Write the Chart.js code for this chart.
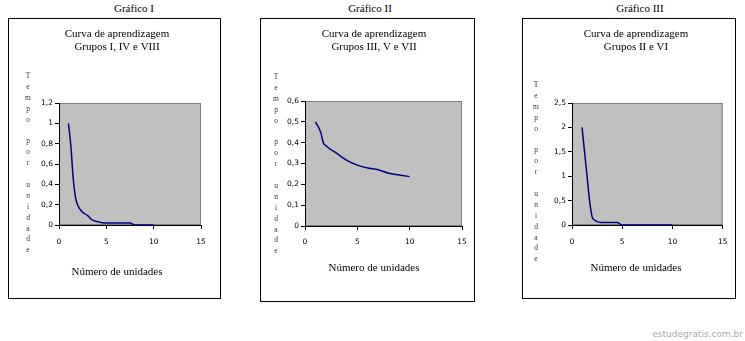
<!DOCTYPE html>
<html lang="pt-BR">
<head>
<meta charset="utf-8">
<title>Curvas de aprendizagem</title>
<script src="https://cdn.jsdelivr.net/npm/chart.js@4.4.0/dist/chart.umd.min.js"></script>
<style>
    body { margin: 0; background: #fff; width: 745px; height: 341px; position: relative; overflow: hidden; font-family: 'Liberation Serif', serif; }
    .heading { position: absolute; top: 2px; width: 120px; margin-left: -60px; text-align: center; font-size: 11px; line-height: 13px; color: #000; }
    .box { position: absolute; border: 1px solid #000; box-sizing: border-box; }
    .box canvas { position: absolute; left: -1px; top: -1px; }
    .marca { position: absolute; right: 2px; top: 328px; font-family: 'DejaVu Sans', sans-serif; font-size: 9px; line-height: 12px; color: #aaa; }
</style>
</head>
<body>

<div class="heading" style="left:134px">Gráfico I</div>
<div class="heading" style="left:370px">Gráfico II</div>
<div class="heading" style="left:640px">Gráfico III</div>

<div class="box" style="left:8px; top:18px; width:213px; height:281px"><canvas id="grafico1" width="213" height="281"></canvas></div>
<div class="box" style="left:260px; top:18px; width:215px; height:284px"><canvas id="grafico2" width="215" height="284"></canvas></div>
<div class="box" style="left:522px; top:18px; width:214px; height:281px"><canvas id="grafico3" width="214" height="281"></canvas></div>

<div class="marca">estudegratis.com.br</div>

<script>
// valores (unidades x tempo por unidade)
const unidades1 = [1, 1.25, 1.5, 1.75, 2, 2.5, 3, 3.5, 4, 5, 6, 7, 7.5, 8, 9, 10];
const tempo1 = [1.0, 0.78, 0.46, 0.27, 0.19, 0.125, 0.095, 0.05, 0.035, 0.02, 0.02, 0.02, 0.02, 0, 0, 0];

const unidades2 = [1, 1.5, 1.75, 2, 3, 4, 5, 6, 7, 8, 9, 10];
const tempo2 = [0.5, 0.45, 0.4, 0.385, 0.35, 0.315, 0.292, 0.278, 0.27, 0.253, 0.245, 0.237];

const unidades3 = [1, 1.25, 1.5, 1.75, 2, 2.25, 2.5, 3, 4, 4.5, 5, 6, 7, 8, 9, 10];
const tempo3 = [2.0, 1.5, 1.0, 0.5, 0.17, 0.1, 0.07, 0.05, 0.05, 0.05, 0, 0, 0, 0, 0, 0];

const titulos1 = ['Curva de aprendizagem', 'Grupos I, IV e VIII'];
const titulos2 = ['Curva de aprendizagem', 'Grupos III, V e VII'];
const titulos3 = ['Curva de aprendizagem', 'Grupos II e VI'];

const ticksX = [0, 5, 10, 15];
const ticksY1 = [0, 0.2, 0.4, 0.6, 0.8, 1, 1.2];
const ticksY2 = [0, 0.1, 0.2, 0.3, 0.4, 0.5, 0.6];
const ticksY3 = [0, 0.5, 1, 1.5, 2, 2.5];

const tituloX = 'Número de unidades';
const tituloY = 'Tempo por unidade';

// fundo cinza da area do grafico
const fundo = {
    id: 'fundo',
    beforeDraw(chart) {
        const a = chart.chartArea;
        const ctx = chart.ctx;
        ctx.save();
        ctx.fillStyle = '#c0c0c0';
        ctx.fillRect(a.left, a.top, a.width, a.height);
        ctx.strokeStyle = '#808080';
        ctx.lineWidth = 1;
        ctx.strokeRect(a.left + 0.5, a.top + 0.5, a.width - 1, a.height - 1);
        ctx.restore();
    }
};

// titulo do eixo y com uma letra por linha
const tituloVertical = {
    id: 'tituloVertical',
    afterDraw(chart, args, opts) {
        const ctx = chart.ctx;
        ctx.save();
        ctx.font = '7.5px "Liberation Serif"';
        ctx.fillStyle = '#333';
        ctx.textAlign = 'center';
        ctx.textBaseline = 'middle';
        const letras = opts.text.split('');
        for (let i = 0; i < letras.length; i++) {
            ctx.fillText(letras[i], opts.x, opts.y + i * opts.step);
        }
        ctx.restore();
    }
};

function curva(id, unidades, tempo, titulos, ticksY, c) {
    const pontos = [];
    for (let i = 0; i < unidades.length; i++) {
        pontos.push({ x: unidades[i], y: tempo[i] });
    }

    new Chart(document.getElementById(id), {
        type: 'line',
        data: {
            datasets: [
                {
                    data: pontos,
                    borderColor: '#000080',
                    borderWidth: 1.5,
                    pointRadius: 0,
                    cubicInterpolationMode: 'monotone',
                    clip: false
                }
            ]
        },
        options: {
            responsive: false,
            animation: false,
            events: [],
            layout: {
                padding: { left: c.padL, right: c.padR, top: 0, bottom: 0 }
            },
            plugins: {
                legend: { display: false },
                tooltip: { enabled: false },
                title: {
                    display: true,
                    text: titulos,
                    color: '#000',
                    font: { family: 'Liberation Serif', size: 11, weight: 'normal', lineHeight: '13px' },
                    padding: { top: c.tTop, bottom: c.tBot }
                },
                subtitle: {
                    display: true,
                    position: 'bottom',
                    text: tituloX,
                    color: '#000',
                    font: { family: 'Liberation Serif', size: 11, weight: 'normal', lineHeight: '13px' },
                    padding: { top: 0, bottom: c.sBot }
                },
                tituloVertical: { text: tituloY, x: c.vx, y: c.vy, step: 10.9 }
            },
            scales: {
                x: {
                    type: 'linear',
                    min: 0,
                    max: 15,
                    afterBuildTicks: (s) => { s.ticks = ticksX.map(v => ({ value: v })); },
                    afterFit: (s) => { s.height = c.xH; },
                    ticks: {
                        color: '#000',
                        font: { family: 'DejaVu Sans', size: 7.5 },
                        padding: c.xPad,
                        maxRotation: 0
                    },
                    grid: { drawOnChartArea: false, color: '#000', tickLength: 4 },
                    border: { color: '#000' }
                },
                y: {
                    min: 0,
                    max: ticksY[ticksY.length - 1],
                    afterBuildTicks: (s) => { s.ticks = ticksY.map(v => ({ value: v })); },
                    afterFit: (s) => { s.width = c.yW; },
                    ticks: {
                        color: '#000',
                        font: { family: 'DejaVu Sans', size: 7.5 },
                        padding: 2,
                        callback: (v) => String(v).replace('.', ',')
                    },
                    grid: { drawOnChartArea: false, color: '#000', tickLength: 4 },
                    border: { color: '#000' }
                }
            }
        },
        plugins: [fundo, tituloVertical]
    });
}

curva('grafico1', unidades1, tempo1, titulos1, ticksY1,
    { padL: 25, padR: 20, yW: 26, tTop: 9.5, tBot: 49.5, sBot: 20.5, xH: 40.5, xPad: 8.5, vx: 20, vy: 58 });
curva('grafico2', unidades2, tempo2, titulos2, ticksY2,
    { padL: 26, padR: 13, yW: 19, tTop: 9.8, tBot: 47.2, sBot: 27.5, xH: 35.5, xPad: 8, vx: 16, vy: 59 });
curva('grafico3', unidades3, tempo3, titulos3, ticksY3,
    { padL: 27, padR: 13, yW: 23, tTop: 9.8, tBot: 49.2, sBot: 24.5, xH: 36.5, xPad: 8.5, vx: 14, vy: 67 });
</script>
</body>
</html>
